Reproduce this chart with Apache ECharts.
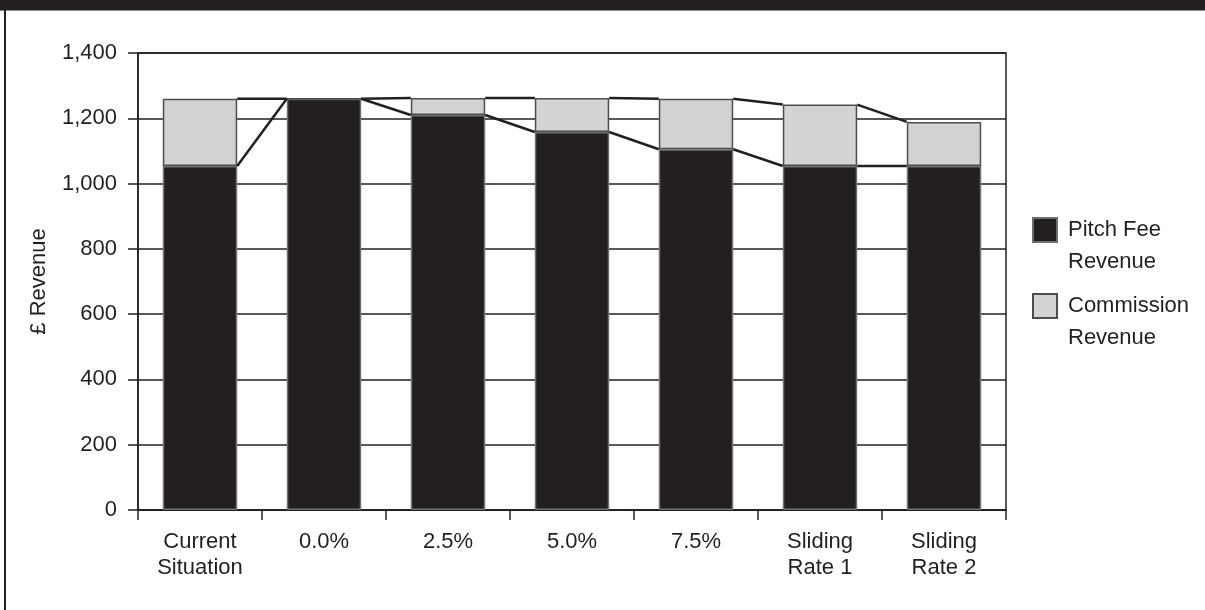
<!DOCTYPE html>
<html>
<head>
<meta charset="utf-8">
<style>
  html, body { margin: 0; padding: 0; background: #ffffff; }
  #chart { width: 1205px; height: 610px; }
</style>
<script src="https://cdn.jsdelivr.net/npm/echarts@6/dist/echarts.min.js"></script>
</head>
<body>
<div id="chart"></div>
<script>
// Revenue by pricing option (£)
const categories = ['Current\nSituation', '0.0%', '2.5%', '5.0%', '7.5%', 'Sliding\nRate 1', 'Sliding\nRate 2'];
const pitchFee = [1054, 1260, 1210, 1158, 1105, 1054, 1054];
const commission = [206, 0, 52, 104, 155, 188, 135];
const yTicks = { min: 0, max: 1400, interval: 200 };

const INK = '#231f20';
const FONT = '"Liberation Sans", Arial, sans-serif';
const BAR_SHARE = 0.6; // bar width as a share of the category band

// Stack totals, used by the joining lines between bar tops
const totals = pitchFee.map((v, i) => v + commission[i]);

// Segments joining the right edge of one bar to the left edge of the next
function joinData(values) {
  const out = [];
  for (let i = 0; i < values.length - 1; i++) out.push([i, values[i], values[i + 1]]);
  return out;
}

function renderJoin(params, api) {
  const i = api.value(0);
  const p0 = api.coord([i, api.value(1)]);
  const p1 = api.coord([i + 1, api.value(2)]);
  const half = api.size([1, 0])[0] * BAR_SHARE / 2;
  return {
    type: 'line',
    shape: { x1: p0[0] + half, y1: p0[1], x2: p1[0] - half, y2: p1[1] },
    style: { stroke: INK, lineWidth: 2.5, fill: null }
  };
}

const chart = echarts.init(document.getElementById('chart'), null, { renderer: 'canvas' });

chart.setOption({
  animation: false,
  backgroundColor: '#ffffff',
  textStyle: { fontFamily: FONT, color: INK },
  graphic: [
    { type: 'rect', left: 0, top: 0, z: 100, shape: { width: 1205, height: 10 }, style: { fill: INK } },
    { type: 'rect', left: 0, top: 10, z: 100, shape: { width: 1205, height: 1 }, style: { fill: '#8c8c8c' } },
    { type: 'rect', left: 4, top: 10, z: 100, shape: { width: 2, height: 600 }, style: { fill: INK } }
  ],
  grid: {
    left: 138, right: 199, top: 53, bottom: 100,
    show: true, borderColor: INK, borderWidth: 1.5, backgroundColor: 'transparent'
  },
  legend: {
    orient: 'vertical',
    left: 1032,
    top: 182,
    padding: 0,
    itemGap: -20,
    itemWidth: 24,
    itemHeight: 24,
    icon: 'rect',
    selectedMode: false,
    data: ['Pitch Fee Revenue', 'Commission Revenue'],
    // leading blank line keeps the first line level with the swatch
    formatter: name => '\n' + name.replace(' Revenue', '\nRevenue'),
    textStyle: {
      fontFamily: FONT, fontSize: 22, color: INK,
      lineHeight: 32, padding: [0, 0, 0, 6]
    }
  },
  xAxis: {
    type: 'category',
    data: categories,
    axisLine: { lineStyle: { color: INK, width: 1.5 } },
    axisTick: { show: true, length: 10, lineStyle: { color: INK, width: 1.5 } },
    axisLabel: {
      fontFamily: FONT, fontSize: 22, color: INK,
      lineHeight: 26, margin: 19, interval: 0
    }
  },
  yAxis: {
    type: 'value',
    min: yTicks.min, max: yTicks.max, interval: yTicks.interval,
    name: '£ Revenue',
    nameLocation: 'middle',
    nameRotate: 90,
    nameGap: 88,
    nameTextStyle: { fontFamily: FONT, fontSize: 22, color: INK },
    axisLine: { show: true, lineStyle: { color: INK, width: 1.5 } },
    axisTick: { show: true, length: 10, lineStyle: { color: INK, width: 1.5 } },
    axisLabel: {
      fontFamily: FONT, fontSize: 22, color: INK, margin: 21,
      formatter: v => v.toLocaleString('en-US')
    },
    splitLine: { show: true, lineStyle: { color: INK, width: 1.5 } }
  },
  series: [
    {
      name: 'Pitch Fee Revenue',
      type: 'bar',
      stack: 'revenue',
      barCategoryGap: '40%',
      data: pitchFee,
      itemStyle: { color: INK, borderColor: '#6d6e71', borderWidth: 1.5 },
      z: 3
    },
    {
      name: 'Commission Revenue',
      type: 'bar',
      stack: 'revenue',
      barCategoryGap: '40%',
      data: commission,
      itemStyle: { color: '#d1d3d4', borderColor: '#4d4d4f', borderWidth: 1.5 },
      z: 3
    },
    {
      name: 'pitch-join',
      type: 'custom',
      renderItem: renderJoin,
      encode: { x: 0, y: [1, 2] },
      data: joinData(pitchFee),
      silent: true,
      z: 4
    },
    {
      name: 'total-join',
      type: 'custom',
      renderItem: renderJoin,
      encode: { x: 0, y: [1, 2] },
      data: joinData(totals),
      silent: true,
      z: 4
    }
  ]
});
</script>
</body>
</html>
